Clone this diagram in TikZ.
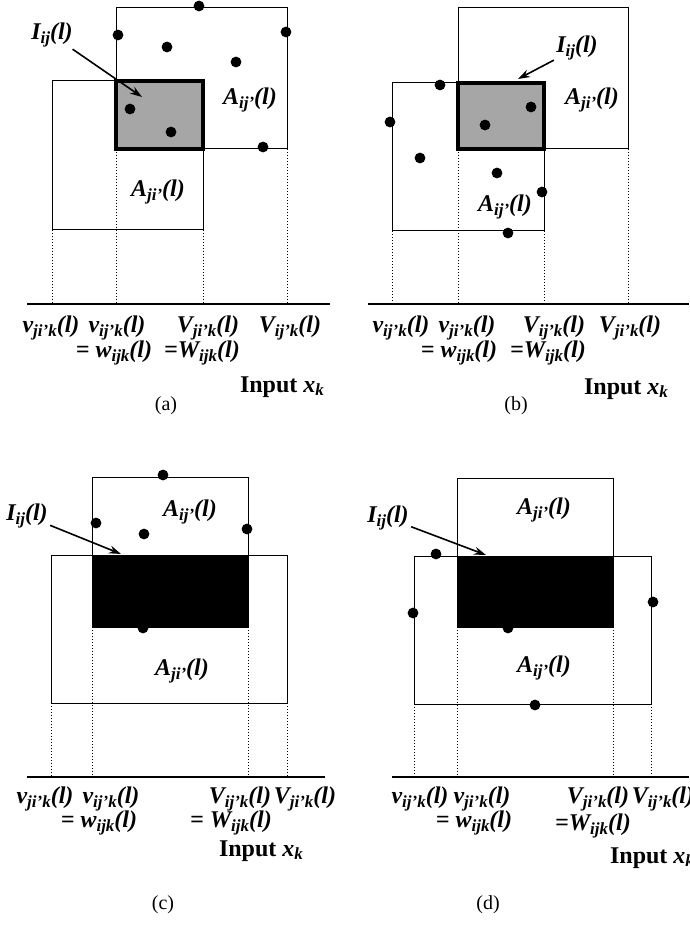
\documentclass[tikz,border=0pt]{standalone}
\usepackage{fontspec}
\setmainfont{Liberation Serif}
\usetikzlibrary{arrows.meta}
\tikzset{
  region/.style={draw, line width=0.5pt},
  overlap/.style={draw, line width=2pt, fill=black!35},
  overlapdark/.style={draw, line width=0.5pt, fill=black},
  guide/.style={densely dotted, line width=0.5pt},
  axis/.style={line width=0.7pt},
  sample/.style={circle, fill=black, inner sep=0pt, minimum size=5.4pt},
  lbl/.style={font=\fontsize{12}{13}\selectfont\bfseries\itshape, inner sep=1pt},
  inlbl/.style={font=\fontsize{12}{13}\selectfont\bfseries, inner sep=1pt},
  pointer/.style={-{Stealth[length=6pt,width=4pt]}, line width=0.8pt},
  caption/.style={font=\fontsize{10}{12}\selectfont}
}
\newcommand{\lowidx}[1]{\raisebox{-0.3ex}{\fontsize{8.5}{9}\selectfont #1}}
\newcommand{\term}[2]{#1\lowidx{#2}(l)}

\begin{document}
\begin{tikzpicture}[x=0.5pt, y=-0.5pt]
    \useasboundingbox (0,0) rectangle (689,929);
    % (a)
    \coordinate (aP1) at (116,8);  \coordinate (aP2) at (287,149);
    \coordinate (aQ1) at (52,81);  \coordinate (aQ2) at (203,230);
    \coordinate (aO) at (27,304);  \coordinate (aE) at (330,304);
    \draw[region] (aP1) rectangle (aP2);
    \draw[region] (aQ1) rectangle (aQ2);
    \draw[overlap] (aP1 |- aQ1) rectangle (aQ2 |- aP2);
    \draw[axis] (aO) -- (aE);
    \draw[guide] (aQ1 |- aQ2) -- (aQ1 |- aO);
    \draw[guide] (aP1 |- aP2) -- (aP1 |- aO);
    \draw[guide] (aQ2) -- (aQ2 |- aO);
    \draw[guide] (aP2) -- (aP2 |- aO);
    \foreach \p [count=\i] in {(199,6),(118,35),(167,47),(286,32),(236,62),(130,109),(171,132),(263,147)}
        \node[sample] (adot\i) at \p {};
    \node[lbl] (aI) at (52,35) {\term{I}{ij}};
    \coordinate (aIt) at (142,97);
    \draw[pointer] (aI) -- (aIt);
    \node[lbl] (aA1) at (250,100) {\term{A}{ij'}};
    \node[lbl] (aA2) at (158,192) {\term{A}{ji'}};
    \node[lbl] (av1) at (51,328) {\term{v}{ji'k}};
    \node[lbl] (av2) at (117,328) {\term{v}{ij'k}};
    \node[lbl] (aV1) at (208,328) {\term{V}{ji'k}};
    \node[lbl] (aV2) at (290,328) {\term{V}{ij'k}};
    \node[lbl] (aw) at (114,353) {= \term{w}{ijk}};
    \node[lbl] (aW) at (202,353) {=\term{W}{ijk}};
    \node[inlbl] (ain) at (282,387) {Input \textit{x}\lowidx{\textit{k}}};
    \node[caption] (acap) at (166,406) {(a)};
    % (b)
    \coordinate (bP1) at (458,8);  \coordinate (bP2) at (628,149);
    \coordinate (bQ1) at (392,83); \coordinate (bQ2) at (544,231);
    \coordinate (bO) at (368,304); \coordinate (bE) at (689,304);
    \draw[region] (bP1) rectangle (bP2);
    \draw[region] (bQ1) rectangle (bQ2);
    \draw[overlap] (bP1 |- bQ1) rectangle (bQ2 |- bP2);
    \draw[axis] (bO) -- (bE);
    \draw[guide] (bQ1 |- bQ2) -- (bQ1 |- bO);
    \draw[guide] (bP1 |- bP2) -- (bP1 |- bO);
    \draw[guide] (bQ2) -- (bQ2 |- bO);
    \draw[guide] (bP2) -- (bP2 |- bO);
    \foreach \p [count=\i] in {(440,85),(390,122),(420,158),(485,125),(531,107),(497,173),(542,192),(508,233)}
        \node[sample] (bdot\i) at \p {};
    \node[lbl] (bI) at (577,48) {\term{I}{ij}};
    \coordinate (bIt) at (518,79);
    \draw[pointer] (bI) -- (bIt);
    \node[lbl] (bA1) at (592,100) {\term{A}{ji'}};
    \node[lbl] (bA2) at (505,207) {\term{A}{ij'}};
    \node[lbl] (bv1) at (401,328) {\term{v}{ij'k}};
    \node[lbl] (bv2) at (467,328) {\term{v}{ji'k}};
    \node[lbl] (bV1) at (554,328) {\term{V}{ij'k}};
    \node[lbl] (bV2) at (630,328) {\term{V}{ji'k}};
    \node[lbl] (bw) at (459,353) {= \term{w}{ijk}};
    \node[lbl] (bW) at (548,353) {=\term{W}{ijk}};
    \node[inlbl] (bin) at (626,389) {Input \textit{x}\lowidx{\textit{k}}};
    \node[caption] (bcap) at (516,406) {(b)};
    % (c)
    \coordinate (cP1) at (92,477);  \coordinate (cP2) at (248,555);
    \coordinate (cQ1) at (51,555);  \coordinate (cQ2) at (287,703);
    \coordinate (cB) at (248,627);
    \coordinate (cO) at (27,777);   \coordinate (cE) at (325,777);
    \draw[region] (cP1) rectangle (cP2);
    \draw[region] (cQ1) rectangle (cQ2);
    \node[sample] (cdot5) at (143,628) {};
    \draw[overlapdark] (cP1 |- cQ1) rectangle (cB);
    \draw[axis] (cO) -- (cE);
    \draw[guide] (cQ1 |- cQ2) -- (cQ1 |- cO);
    \draw[guide] (cP1 |- cB) -- (cP1 |- cO);
    \draw[guide] (cB) -- (cB |- cO);
    \draw[guide] (cQ2) -- (cQ2 |- cO);
    \foreach \p [count=\i] in {(163,475),(96,523),(144,534),(247,529)}
        \node[sample] (cdot\i) at \p {};
    \node[lbl] (cI) at (27,516) {\term{I}{ij}};
    \coordinate (cIt) at (121,554);
    \draw[pointer] (cI) -- (cIt);
    \node[lbl] (cA1) at (190,512) {\term{A}{ij'}};
    \node[lbl] (cA2) at (182,671) {\term{A}{ji'}};
    \node[lbl] (cv1) at (45,799) {\term{v}{ji'k}};
    \node[lbl] (cv2) at (111,799) {\term{v}{ij'k}};
    \node[lbl] (cV1) at (240,799) {\term{V}{ij'k}};
    \node[lbl] (cV2) at (305,799) {\term{V}{ji'k}};
    \node[lbl] (cw) at (99,823) {= \term{w}{ijk}};
    \node[lbl] (cW) at (231,823) {= \term{W}{ijk}};
    \node[inlbl] (cin) at (261,851) {Input \textit{x}\lowidx{\textit{k}}};
    \node[caption] (ccap) at (163,905) {(c)};
    % (d)
    \coordinate (dP1) at (457,478);  \coordinate (dP2) at (613,556);
    \coordinate (dQ1) at (414,556);  \coordinate (dQ2) at (651,704);
    \coordinate (dB) at (613,627);
    \coordinate (dO) at (392,777);   \coordinate (dE) at (689,777);
    \draw[region] (dP1) rectangle (dP2);
    \draw[region] (dQ1) rectangle (dQ2);
    \node[sample] (ddot5) at (508,628) {};
    \draw[overlapdark] (dP1 |- dQ1) rectangle (dB);
    \draw[axis] (dO) -- (dE);
    \draw[guide] (dQ1 |- dQ2) -- (dQ1 |- dO);
    \draw[guide] (dP1 |- dB) -- (dP1 |- dO);
    \draw[guide] (dB) -- (dB |- dO);
    \draw[guide] (dQ2) -- (dQ2 |- dO);
    \foreach \p [count=\i] in {(436,554),(413,613),(653,602),(535,705)}
        \node[sample] (ddot\i) at \p {};
    \node[lbl] (dI) at (388,518) {\term{I}{ij}};
    \coordinate (dIt) at (486,555);
    \draw[pointer] (dI) -- (dIt);
    \node[lbl] (dA1) at (544,510) {\term{A}{ji'}};
    \node[lbl] (dA2) at (544,668) {\term{A}{ij'}};
    \node[lbl] (dv1) at (420,799) {\term{v}{ij'k}};
    \node[lbl] (dv2) at (482,799) {\term{v}{ji'k}};
    \node[lbl] (dV1) at (598,799) {\term{V}{ji'k}};
    \node[lbl] (dV2) at (663,799) {\term{V}{ij'k}};
    \node[lbl] (dw) at (474,823) {= \term{w}{ijk}};
    \node[lbl] (dW) at (593,826) {=\term{W}{ijk}};
    \node[inlbl] (din) at (652,858) {Input \textit{x}\lowidx{\textit{k}}};
    \node[caption] (dcap) at (488,905) {(d)};
\end{tikzpicture}
\end{document}
